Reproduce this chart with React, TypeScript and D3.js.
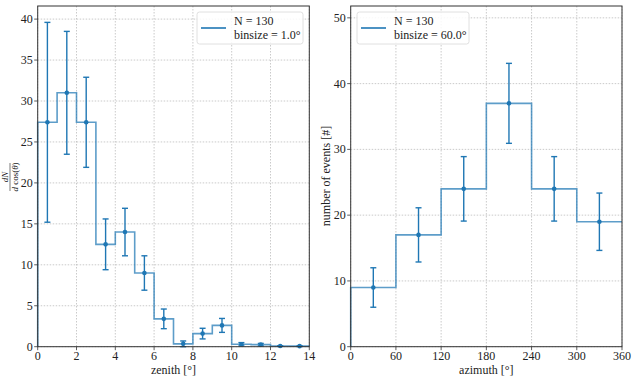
import * as d3 from "d3";

const zenithEdges = [0, 1, 2, 3, 4, 5, 6, 7, 8, 9, 10, 11, 12, 13, 14];
const zenithValues = [27.4, 31.0, 27.4, 12.5, 14.0, 9.0, 3.4, 0.35, 1.6, 2.6, 0.3, 0.25, 0.08, 0.07];
const zenithErrors = [12.2, 7.5, 5.5, 3.1, 2.9, 2.1, 1.2, 0.35, 0.65, 0.85, 0.2, 0.15, 0.04, 0.04];
const zenithXTicks = [0, 2, 4, 6, 8, 10, 12, 14];
const zenithYTicks = [0, 5, 10, 15, 20, 25, 30, 35, 40];

const azimuthEdges = [0, 60, 120, 180, 240, 300, 360];
const azimuthValues = [9, 17, 24, 37, 24, 19];
const azimuthErrors = [3.0, 4.12, 4.9, 6.08, 4.9, 4.36];
const azimuthXTicks = [0, 60, 120, 180, 240, 300, 360];
const azimuthYTicks = [0, 10, 20, 30, 40, 50];

const blue = "#1f77b4";
const font = "Liberation Serif";
const fs = 12;
const top = 6;
const bottom = 346.7;

type PanelProps = {
  left: number;
  right: number;
  edges: number[];
  values: number[];
  errors: number[];
  xTicks: number[];
  yTicks: number[];
  yMax: number;
  xLabel: string;
  legendX: number;
  legendW: number;
  binsize: string;
  yLabel: React.ReactNode;
};

function Panel(p: PanelProps) {
  const x = d3.scaleLinear().domain([p.edges[0], p.edges[p.edges.length - 1]]).range([p.left, p.right]);
  const y = d3.scaleLinear().domain([0, p.yMax]).range([bottom, top]);

  // step outline: start at zero on the first edge
  const pts: [number, number][] = [[p.edges[0], 0]];
  p.values.forEach((v, i) => {
    pts.push([p.edges[i], v]);
    pts.push([p.edges[i + 1], v]);
  });
  const line = d3.line<[number, number]>().x((d) => x(d[0])).y((d) => y(d[1]));

  return (
    <g style={{ fontFamily: font }}>
      {p.xTicks.map((t) => (
        <line key={"gx" + t} x1={x(t)} x2={x(t)} y1={top} y2={bottom} stroke="#bdbdbd" strokeWidth={0.8} strokeDasharray="1.5,1.5" />
      ))}
      {p.yTicks.map((t) => (
        <line key={"gy" + t} x1={p.left} x2={p.right} y1={y(t)} y2={y(t)} stroke="#bdbdbd" strokeWidth={0.8} strokeDasharray="1.5,1.5" />
      ))}
      <path d={line(pts) || ""} fill="none" stroke={blue} strokeWidth={1.6} strokeOpacity={0.72} />
      {p.values.map((v, i) => {
        const cx = x((p.edges[i] + p.edges[i + 1]) / 2);
        const lo = y(Math.max(0, v - p.errors[i]));
        const hi = y(v + p.errors[i]);
        return (
          <g key={"e" + i} stroke={blue} strokeWidth={1.4}>
            <line x1={cx} x2={cx} y1={lo} y2={hi} />
            <line x1={cx - 3} x2={cx + 3} y1={lo} y2={lo} />
            <line x1={cx - 3} x2={cx + 3} y1={hi} y2={hi} />
            <circle cx={cx} cy={y(v)} r={2.3} fill={blue} stroke="none" />
          </g>
        );
      })}
      <rect x={p.left} y={top} width={p.right - p.left} height={bottom - top} fill="none" stroke="#333" strokeWidth={1} />
      {p.xTicks.map((t) => (
        <g key={"tx" + t}>
          <line x1={x(t)} x2={x(t)} y1={bottom} y2={bottom + 3.5} stroke="#333" strokeWidth={0.8} />
          <text x={x(t)} y={bottom + 13} textAnchor="middle" fontSize={fs} fill="#222">{t}</text>
        </g>
      ))}
      {p.yTicks.map((t) => (
        <g key={"ty" + t}>
          <line x1={p.left - 3.5} x2={p.left} y1={y(t)} y2={y(t)} stroke="#333" strokeWidth={0.8} />
          <text x={p.left - 5} y={y(t) + 4} textAnchor="end" fontSize={fs} fill="#222">{t}</text>
        </g>
      ))}
      <text x={(p.left + p.right) / 2} y={374} textAnchor="middle" fontSize={fs} fill="#222">{p.xLabel}</text>
      {p.yLabel}
      <g>
        <rect x={p.legendX} y={12} width={p.legendW} height={32} rx={2.5} fill="white" fillOpacity={0.85} stroke="#d8d8d8" strokeWidth={0.8} />
        <line x1={p.legendX + 4} x2={p.legendX + 29} y1={28} y2={28} stroke={blue} strokeWidth={1.6} />
        <text x={p.legendX + 37} y={25} fontSize={fs} fill="#222">N = 130</text>
        <text x={p.legendX + 37} y={38.5} fontSize={fs} fill="#222">{p.binsize}</text>
      </g>
    </g>
  );
}

export default function App() {
  return (
    <svg width={635} height={380} style={{ display: "block", position: "absolute", left: 0, top: 0 }}>
      <rect width={635} height={380} fill="white" />
      <Panel
        left={37.7}
        right={309.3}
        edges={zenithEdges}
        values={zenithValues}
        errors={zenithErrors}
        xTicks={zenithXTicks}
        yTicks={zenithYTicks}
        yMax={41.6}
        xLabel="zenith [°]"
        legendX={197}
        legendW={106}
        binsize="binsize = 1.0°"
        yLabel={
          <g transform="translate(10,177) rotate(-90)" fill="#222">
            <text x={0} y={-2.5} textAnchor="middle" fontSize={9} fontStyle="italic">dN</text>
            <line x1={-14} x2={14} y1={0} y2={0} stroke="#222" strokeWidth={0.6} />
            <text x={0} y={8} textAnchor="middle" fontSize={9}>
              <tspan fontStyle="italic">d</tspan> cos(<tspan fontStyle="italic">θ</tspan>)
            </text>
          </g>
        }
      />
      <Panel
        left={350.7}
        right={622}
        edges={azimuthEdges}
        values={azimuthValues}
        errors={azimuthErrors}
        xTicks={azimuthXTicks}
        yTicks={azimuthYTicks}
        yMax={51.8}
        xLabel="azimuth [°]"
        legendX={357}
        legendW={112}
        binsize="binsize = 60.0°"
        yLabel={
          <text transform="translate(330,176) rotate(-90)" textAnchor="middle" fontSize={fs} fill="#222">
            number of events [#]
          </text>
        }
      />
    </svg>
  );
}
